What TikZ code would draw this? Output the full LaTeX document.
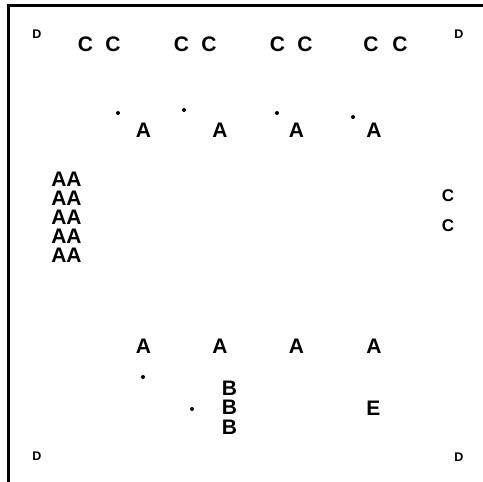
\documentclass[tikz,border=0pt]{standalone}
\usepackage{fontspec}
\setmainfont{Liberation Sans}
\begin{document}
\begin{tikzpicture}[x=1pt,y=-1pt,
  lbl/.style={inner sep=0pt,font=\fontsize{21}{21}\selectfont\bfseries},
  smallc/.style={inner sep=0pt,font=\fontsize{17}{17}\selectfont\bfseries},
  tinyd/.style={inner sep=0pt,font=\fontsize{12.5}{12.5}\selectfont\bfseries},
  dotmark/.style={fill=black}]
\useasboundingbox (0,0) rectangle (483,482);
\fill[white] (0,0) rectangle (483,482);
\draw[line width=3pt] (8,482) -- (8,5) -- (483,5);
% corner D
\node[tinyd] (d1) at (37,34) {D};
\node[tinyd] (d2) at (459,34) {D};
\node[tinyd] (d3) at (37,456) {D};
\node[tinyd] (d4) at (459,457) {D};
% top C pairs
\foreach \x/\n in {85.5/1,113/2,181.5/3,209/4,277.5/5,305/6,371/7,400/8}
  \node[lbl] (c\n) at (\x,44.5) {C};
% dots and A row
\foreach \x/\y/\n in {118/113/1,184/110/2,277/113/3,353/117/4}
  \fill[dotmark] (\x,\y) circle (2);
\foreach \x/\n in {143.5/1,220/2,296.5/3,374/4}
  \node[lbl] (a\n) at (\x,130) {A};
% AA column
\foreach \y/\n in {179/1,198/2,217/3,236/4,255/5}
  \node[lbl] (aa\n) at (66.5,\y) {AA};
% right C column
\node[smallc] (rc1) at (448,196) {C};
\node[smallc] (rc2) at (448,226) {C};
% bottom A row
\foreach \x/\n in {143.5/1,220/2,296.5/3,374/4}
  \node[lbl] (b\n) at (\x,346) {A};
\fill[dotmark] (143,377) circle (2);
\fill[dotmark] (192,409) circle (2);
% B column
\foreach \y/\n in {388.5/1,407.5/2,427/3}
  \node[lbl] (bb\n) at (229.5,\y) {B};
\node[lbl] (e1) at (373.5,408) {E};
\end{tikzpicture}
\end{document}
